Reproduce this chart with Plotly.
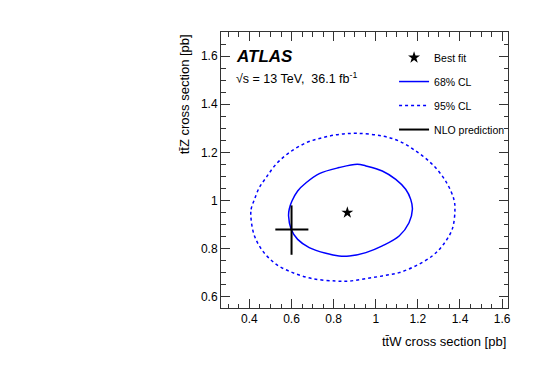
import plotly.graph_objects as go

# 68% CL contour (ttW, ttZ)
cl68_ttw = [0.586, 0.589, 0.602, 0.629, 0.669, 0.732, 0.826, 0.912, 0.953, 1.031, 1.095, 1.142,
            1.166, 1.174, 1.158, 1.111, 1.031, 0.953, 0.874, 0.826, 0.763, 0.684, 0.629, 0.598, 0.586]
cl68_ttz = [0.936, 0.964, 0.998, 1.040, 1.074, 1.112, 1.137, 1.151, 1.144, 1.123, 1.088, 1.047,
            1.005, 0.964, 0.908, 0.853, 0.812, 0.784, 0.770, 0.770, 0.781, 0.805, 0.839, 0.881, 0.936]

# 95% CL contour
cl95_ttw = [0.408, 0.408, 0.424, 0.447, 0.479, 0.526, 0.589, 0.669, 0.747, 0.826, 0.913, 1.031,
            1.111, 1.190, 1.268, 1.332, 1.371, 1.376, 1.363, 1.316, 1.268, 1.190, 1.111, 1.031,
            0.953, 0.874, 0.811, 0.700, 0.605, 0.526, 0.463, 0.424, 0.408]
cl95_ttz = [0.922, 0.964, 1.005, 1.054, 1.095, 1.151, 1.199, 1.240, 1.261, 1.275, 1.279, 1.268,
            1.247, 1.206, 1.151, 1.081, 1.005, 0.964, 0.881, 0.812, 0.770, 0.729, 0.701, 0.687,
            0.676, 0.666, 0.666, 0.676, 0.701, 0.736, 0.791, 0.853, 0.922]

best_fit = (0.865, 0.95)

# NLO prediction with uncertainties
nlo_ttw, nlo_ttw_up, nlo_ttw_dn = 0.60, 0.08, 0.077
nlo_ttz, nlo_ttz_up, nlo_ttz_dn = 0.88, 0.10, 0.105

font = "Liberation Sans, Arial, sans-serif"

fig = go.Figure()
fig.add_trace(go.Scatter(x=[best_fit[0]], y=[best_fit[1]], mode="markers", name="Best fit",
                         marker=dict(symbol="star", size=9, color="black"), legendgroup="a"))
fig.add_trace(go.Scatter(x=cl68_ttw, y=cl68_ttz, mode="lines", name="68% CL",
                         line=dict(color="#0000ff", width=1.5, shape="spline", smoothing=1.0),
                         legendgroup="b"))
fig.add_trace(go.Scatter(x=cl95_ttw, y=cl95_ttz, mode="lines", name="95% CL",
                         line=dict(color="#0000ff", width=1.5, dash="dot", shape="spline", smoothing=1.0),
                         legendgroup="c"))
fig.add_trace(go.Scatter(x=[nlo_ttw], y=[nlo_ttz], mode="lines", name="NLO prediction",
                         line=dict(color="black", width=2),
                         error_x=dict(type="data", array=[nlo_ttw_up], arrayminus=[nlo_ttw_dn],
                                      width=0, thickness=2, color="black"),
                         error_y=dict(type="data", array=[nlo_ttz_up], arrayminus=[nlo_ttz_dn],
                                      width=0, thickness=2, color="black"),
                         legendgroup="d"))

axis_common = dict(showline=True, linecolor="#333", linewidth=1, mirror="allticks",
                   ticks="inside", ticklen=9, tickcolor="#333", showgrid=False, zeroline=False,
                   tickfont=dict(family=font, size=12, color="black"),
                   minor=dict(ticks="inside", ticklen=4.5, dtick=0.05, tickcolor="#333", showgrid=False))

fig.update_xaxes(range=[0.265, 1.628], tickvals=[0.4, 0.6, 0.8, 1, 1.2, 1.4, 1.6],
                 ticktext=["0.4", "0.6", "0.8", "1", "1.2", "1.4", "1.6"], **axis_common)
fig.update_yaxes(range=[0.554, 1.70], tickvals=[0.6, 0.8, 1, 1.2, 1.4, 1.6],
                 ticktext=["0.6", "0.8", "1", "1.2", "1.4", "1.6"], **axis_common)

fig.add_annotation(text="<b><i>ATLAS</i></b>", xref="paper", yref="paper", x=0.045, y=0.913,
                   xanchor="left", yanchor="middle", showarrow=False,
                   font=dict(family=font, size=17, color="black"))
fig.add_annotation(text="√s = 13 TeV,  36.1 fb<sup>-1</sup>", xref="paper", yref="paper",
                   x=0.045, y=0.835, xanchor="left", yanchor="middle", showarrow=False,
                   font=dict(family=font, size=12.5, color="black"))
fig.add_annotation(text="tt̄Z cross section [pb]", xref="paper", yref="paper", x=-0.128, y=1.0,
                   xanchor="center", yanchor="top", textangle=-90, showarrow=False,
                   font=dict(family=font, size=13, color="black"))
fig.add_annotation(text="tt̄W cross section [pb]", xref="paper", yref="paper", x=1.0, y=-0.12,
                   xanchor="right", yanchor="middle", showarrow=False,
                   font=dict(family=font, size=13, color="black"))

fig.update_layout(width=540, height=382, plot_bgcolor="white", paper_bgcolor="white",
                  margin=dict(l=213, r=40, t=24, b=82),
                  legend=dict(x=0.603, y=0.96, xanchor="left", yanchor="top",
                              bgcolor="rgba(0,0,0,0)", tracegroupgap=5,
                              font=dict(family=font, size=10.5, color="black")))

fig.write_html("out.html")
